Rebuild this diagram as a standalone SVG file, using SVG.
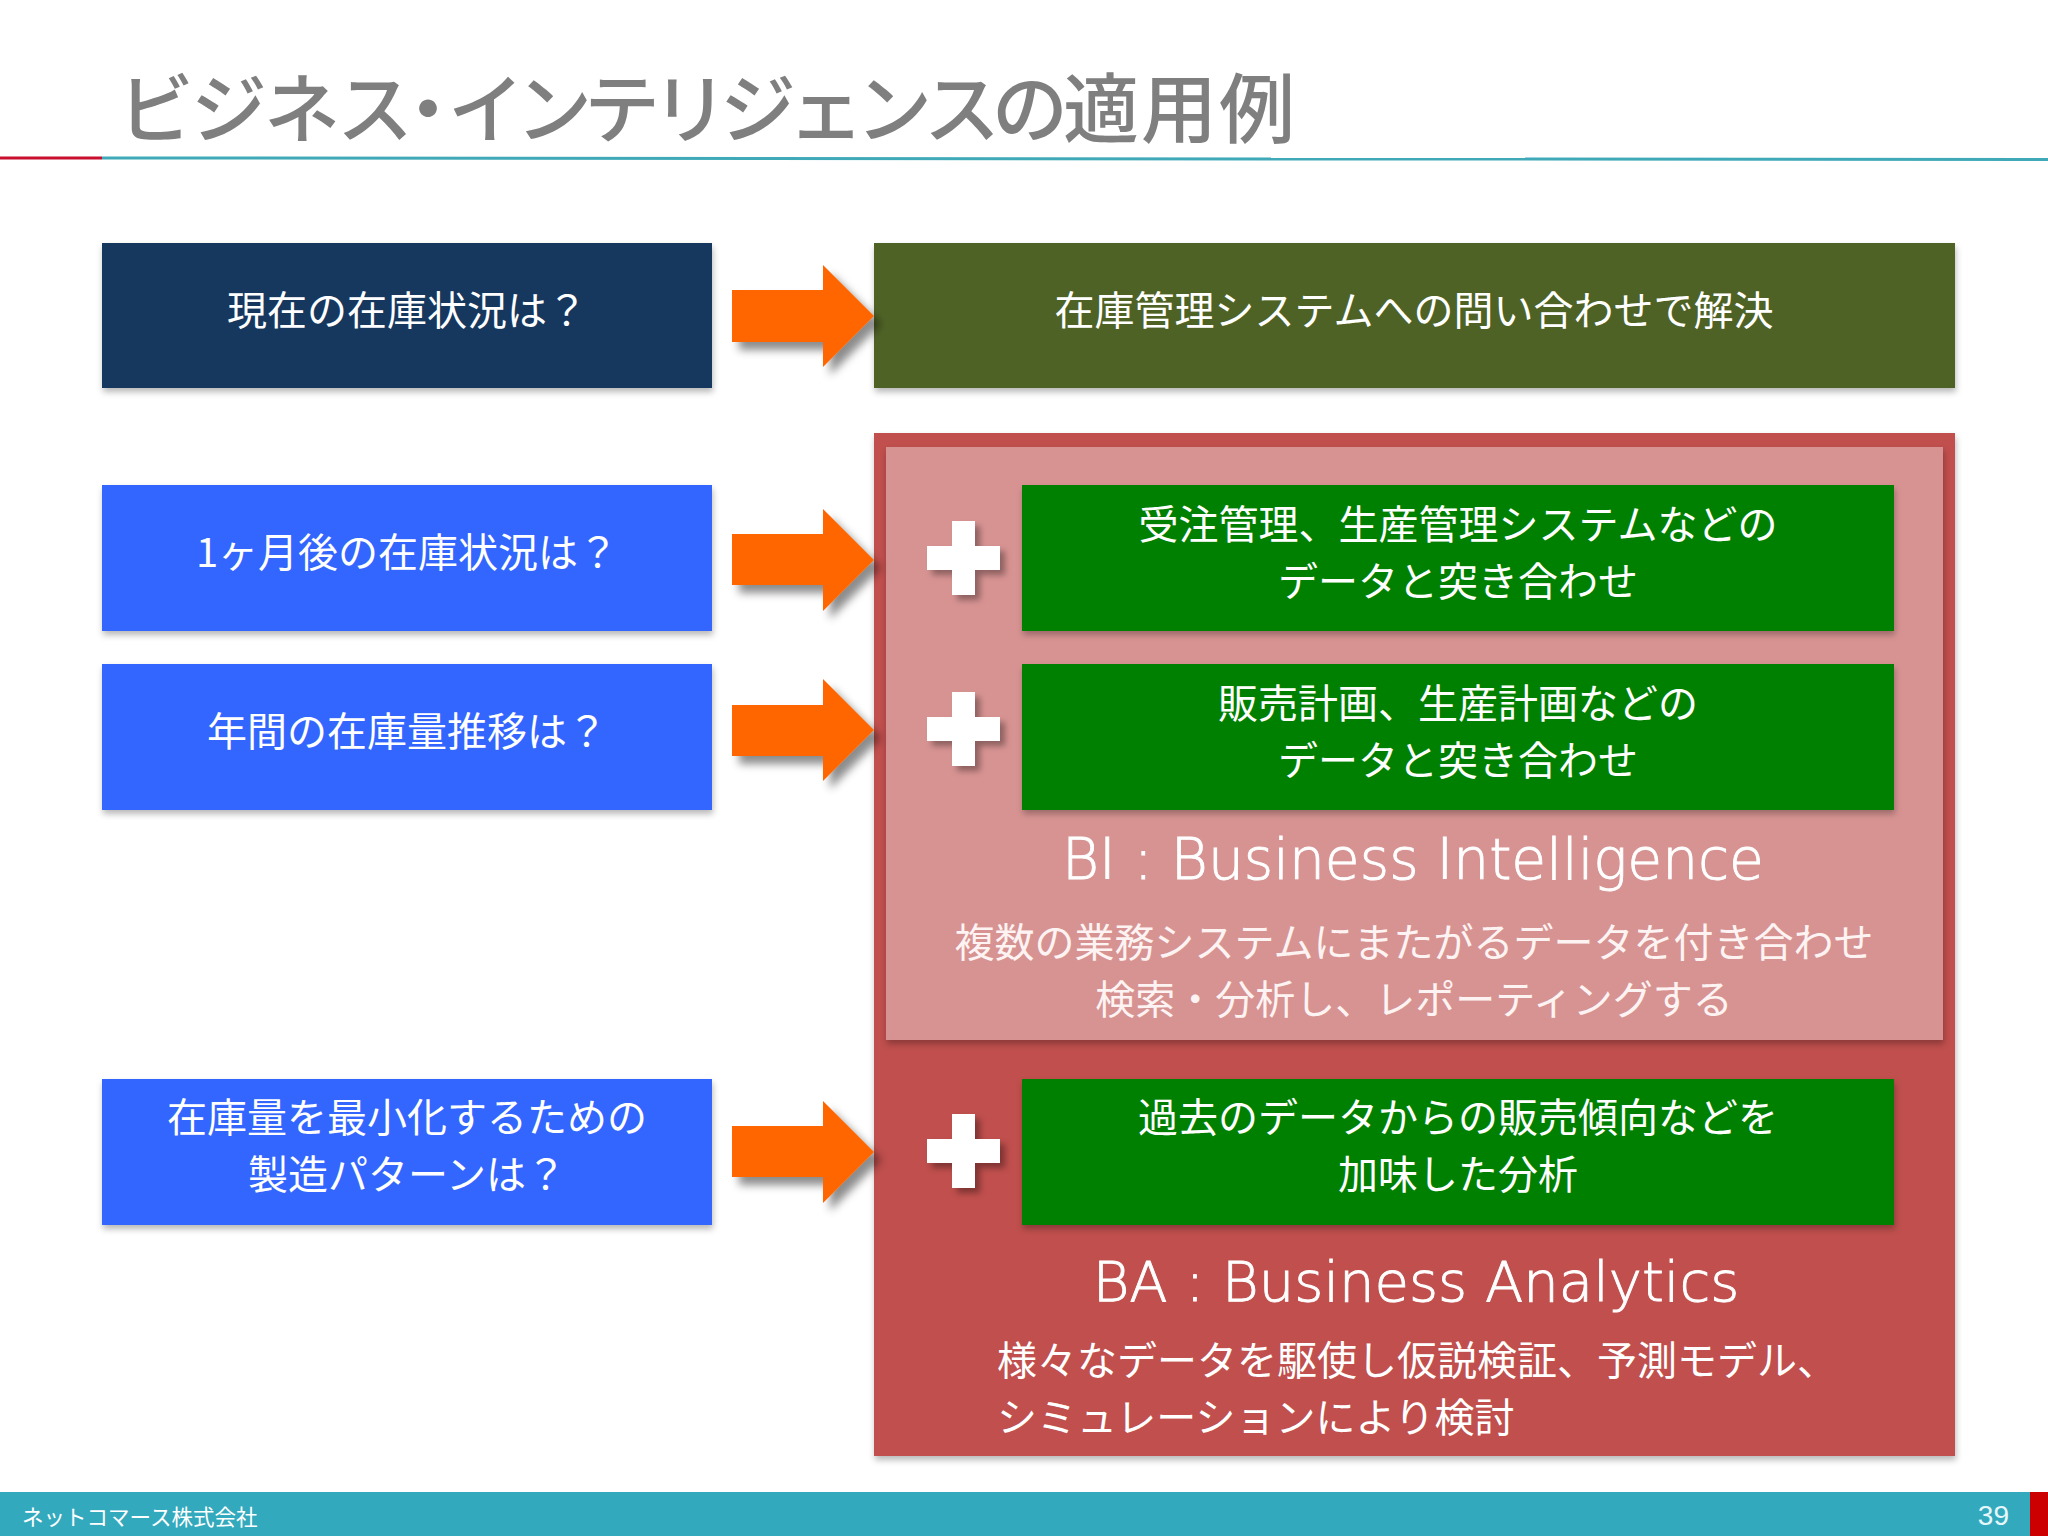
<svg xmlns="http://www.w3.org/2000/svg" width="2048" height="1536" viewBox="0 0 2048 1536">
<style>
text{font-family:"Noto Sans CJK JP","Noto Sans",sans-serif;font-weight:400;fill:#fff;text-anchor:middle}
.t40{font-size:40px}
.en{font-family:"DejaVu Sans","Noto Sans CJK JP",sans-serif;font-weight:200;font-size:56px;stroke:#fff;stroke-width:.9px}
.st{text-anchor:start}
.soft{fill:#fdf3f3}
.title{font-size:76px;fill:#7f7f7f;font-weight:500;text-anchor:start}
.box{filter:url(#sb)}
.arrow{fill:#ff6600;filter:url(#sa)}
.plus{fill:#fff;filter:url(#sp)}
</style>
<defs>
<filter id="sb" x="-5%" y="-10%" width="110%" height="125%"><feDropShadow dx="1" dy="4" stdDeviation="3" flood-color="#000" flood-opacity=".28"/></filter>
<filter id="sa" x="-10%" y="-10%" width="130%" height="130%"><feDropShadow dx="7" dy="8" stdDeviation="4" flood-color="#000" flood-opacity=".45"/></filter>
<filter id="sp" x="-10%" y="-10%" width="130%" height="130%"><feDropShadow dx="5" dy="5" stdDeviation="3" flood-color="#000" flood-opacity=".35"/></filter>
</defs>
<rect width="2048" height="1536" fill="#fff"/>
<g id="header">
<rect x="0" y="156.5" width="102" height="3" fill="#c8102e"/>
<path d="M102 156.5L2048 158V161L102 159.5z" fill="#3fa9b8"/>
<text class="title" y="137" x="118 191 264 337 390 448 516 584 652 720 788 856 924 992 1063 1141 1219">ビジネス・インテリジェンスの適用例</text>
</g>
<g id="q1"><rect class="box" x="102" y="243" width="610" height="145" fill="#17375e"/><text class="t40" x="407" y="325">現在の在庫状況は？</text></g>
<g id="a1"><rect class="box" x="874" y="243" width="1081" height="145" fill="#4f6228"/><text class="t40" x="1414" y="325">在庫管理システムへの問い合わせで解決</text></g>
<g id="ba"><rect class="box" x="874" y="433" width="1081" height="1023" fill="#c0504d"/>
<text class="en" x="1416" y="1301">BA : Business Analytics</text>
<text class="t40 st" x="997" y="1375">様々なデータを駆使し仮説検証、予測モデル、</text>
<text class="t40 st" x="997" y="1432">シミュレーションにより検討</text></g>
<g id="bi"><rect class="box" x="886" y="447" width="1057" height="593" fill="#d79392"/>
<text class="en" x="1413" y="879" style="font-size:56.6px">BI : Business Intelligence</text>
<text class="t40 soft" x="1414" y="957">複数の業務システムにまたがるデータを付き合わせ</text>
<text class="t40 soft" x="1414" y="1014">検索・分析し、レポーティングする</text></g>
<g id="q2"><rect class="box" x="102" y="485" width="610" height="146" fill="#3366ff"/><text class="t40" x="407" y="567">1ヶ月後の在庫状況は？</text></g>
<g id="q3"><rect class="box" x="102" y="664" width="610" height="146" fill="#3366ff"/><text class="t40" x="407" y="746">年間の在庫量推移は？</text></g>
<g id="q4"><rect class="box" x="102" y="1079" width="610" height="146" fill="#3366ff"/><text class="t40" x="407" y="1132">在庫量を最小化するための</text><text class="t40" x="407" y="1189">製造パターンは？</text></g>
<g id="g1"><rect class="box" x="1022" y="485" width="872" height="146" fill="#008000"/><text class="t40" x="1458" y="539">受注管理、生産管理システムなどの</text><text class="t40" x="1458" y="596">データと突き合わせ</text></g>
<g id="g2"><rect class="box" x="1022" y="664" width="872" height="146" fill="#008000"/><text class="t40" x="1458" y="718">販売計画、生産計画などの</text><text class="t40" x="1458" y="775">データと突き合わせ</text></g>
<g id="g3"><rect class="box" x="1022" y="1079" width="872" height="146" fill="#008000"/><text class="t40" x="1458" y="1132">過去のデータからの販売傾向などを</text><text class="t40" x="1458" y="1189">加味した分析</text></g>
<g id="plus1"><path class="plus" d="M952 521h23v25h25v24h-25v25h-23v-25h-25v-24h25z"/></g>
<g id="plus2"><path class="plus" d="M952 692h23v25h25v24h-25v25h-23v-25h-25v-24h25z"/></g>
<g id="plus3"><path class="plus" d="M952 1114h23v25h25v24h-25v25h-23v-25h-25v-24h25z"/></g>
<g id="connectors">
<path class="arrow" d="M732 290H823V265L874 316 823 367V342H732z"/>
<path class="arrow" d="M732 534H823V509L874 560 823 611V585H732z"/>
<path class="arrow" d="M732 705H823V679L874 730 823 781V756H732z"/>
<path class="arrow" d="M732 1126H823V1101L874 1152 823 1203V1177H732z"/>
</g>
<g id="footer">
<rect x="0" y="1492" width="2030" height="44" fill="#33a9bd"/>
<rect x="2030" y="1492" width="18" height="44" fill="#cc0000"/>
<text x="22" y="1525" class="st" style="font-size:21.5px">ネットコマース株式会社</text>
<text x="2009" y="1525" style="font-family:'Liberation Sans',sans-serif;font-size:28px;text-anchor:end;fill:#e6f7fa">39</text>
</g>
</svg>
